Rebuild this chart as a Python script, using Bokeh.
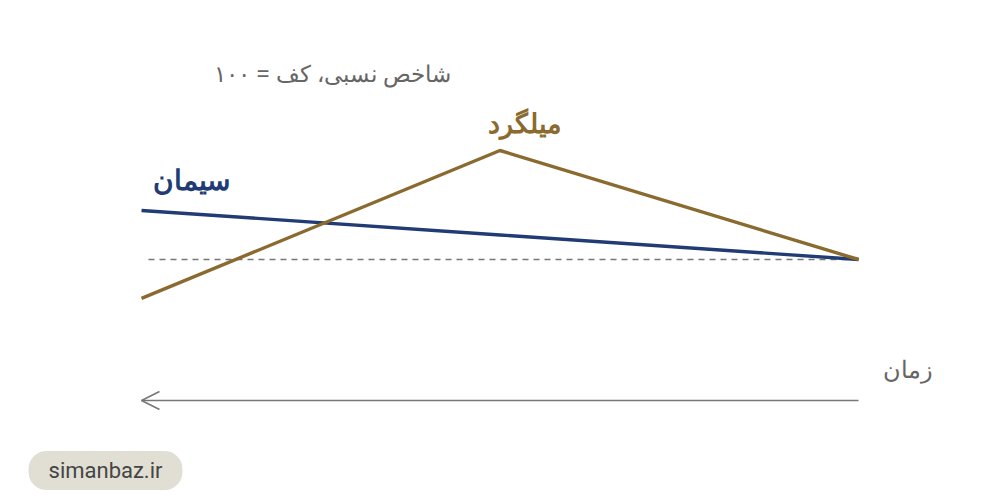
from bokeh.plotting import figure
from bokeh.models import Range1d, Label, Arrow, OpenHead, ColumnDataSource
from bokeh.embed import file_html
from bokeh.resources import INLINE

# ---- data (time runs right-to-left; t=0 is the start, index = 100 at start)
times = [0, 1, 2]
rebar = [100, 130, 89.3]      # میلگرد
cement = [100, 106.75, 113.5]  # سیمان
base_value = 100

title_text = "شاخص نسبی، کف = ۱۰۰"
rebar_name = "میلگرد"
cement_name = "سیمان"
time_name = "زمان"
site = "simanbaz.ir"

REBAR_COLOR = "#8A6A2E"
CEMENT_COLOR = "#213C74"
GRAY = "#666666"

W, H = 996, 496
OFF = 0

# pixel (page) -> data helpers
# t=0 at px 858, t=2 at px 141 ; 100 at py 259, 130 at py 150
UX = 2 / (141 - 858)
UY = 30 / (150 - 259)
XS = 0 + (OFF - 858) * UX
XE = 0 + (OFF + W - 858) * UX
YT = 100 + (OFF - 259) * UY
YB = 100 + (OFF + H - 259) * UY


def px(xp):
    return (xp - 858) * UX


def py(yp):
    return 100 + (yp - 259) * UY


p = figure(width=W, height=H, output_backend="svg", toolbar_location=None,
           x_range=Range1d(XS, XE), y_range=Range1d(YB, YT),
           min_border=0)
p.axis.visible = False
p.grid.visible = False
p.outline_line_color = None
p.background_fill_color = "white"
p.border_fill_color = "white"

# dashed base line
p.line(x=[times[0], px(145)], y=[base_value, base_value], line_color="#777777",
       line_width=1.5, line_dash="6 5")

src = ColumnDataSource(dict(t=times, rebar=rebar, cement=cement))
p.line("t", "cement", source=src, line_color=CEMENT_COLOR, line_width=3.4)
p.line("t", "rebar", source=src, line_color=REBAR_COLOR, line_width=3.4)

font = "Noto Sans"

p.add_layout(Label(x=px(450), y=py(72), text=title_text, text_align="right",
                   text_baseline="middle", text_font=font, text_font_size="23px",
                   text_color=GRAY))
p.add_layout(Label(x=px(524), y=py(122), text=rebar_name, text_align="center",
                   text_baseline="middle", text_font=font, text_font_size="27px",
                   text_font_style="bold", text_color=REBAR_COLOR))
p.add_layout(Label(x=px(191), y=py(178), text=cement_name, text_align="center",
                   text_baseline="middle", text_font=font, text_font_size="28px",
                   text_font_style="bold", text_color=CEMENT_COLOR))
p.add_layout(Label(x=px(907), y=py(368), text=time_name, text_align="center",
                   text_baseline="middle", text_font=font, text_font_size="24px",
                   text_color=GRAY))

# time arrow pointing left
p.add_layout(Arrow(end=OpenHead(size=18, line_color="#777777", line_width=1.6),
                   x_start=px(858), y_start=py(400), x_end=px(141), y_end=py(400),
                   line_color="#777777", line_width=1.6))

# site badge
p.add_layout(Label(x=px(105), y=py(470), text=site, text_align="center",
                   text_baseline="middle", text_font="Roboto", text_font_size="22px",
                   text_color="#454545", background_fill_color="#E1DED4",
                   padding=(20, 7), border_radius=18))

open("out.html", "w").write(file_html(p, INLINE))
